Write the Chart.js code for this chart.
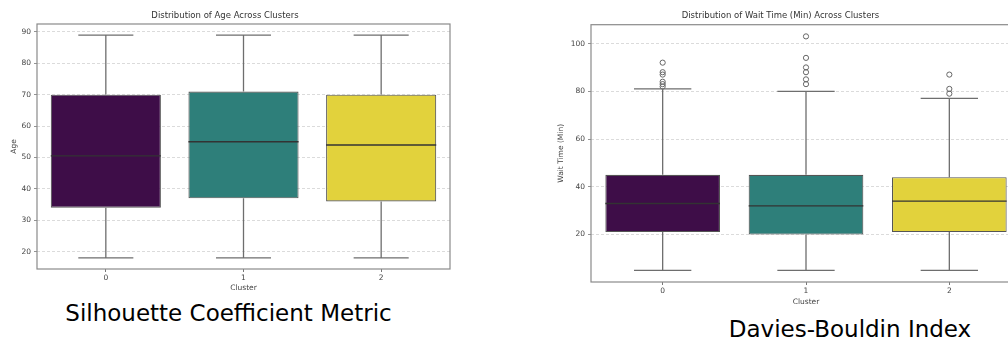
<!DOCTYPE html>
<html>
<head>
<meta charset="utf-8">
<script src="https://cdn.jsdelivr.net/npm/chart.js@4.4.1/dist/chart.umd.min.js"></script>
<style>
  html, body { margin: 0; padding: 0; background: #fff; }
  body { width: 1008px; height: 341px; overflow: hidden; position: relative; }
  canvas { position: absolute; }
  #ageChart { left: 0; top: 0; }
  #waitChart { left: 540px; top: 0; }
  .caption { position: absolute; font-family: "DejaVu Sans", sans-serif; font-size: 23px; color: #000; text-align: center; white-space: nowrap; line-height: 1; }
  #cap1 { left: 0; width: 457px; top: 302px; }
  #cap2 { left: 700px; width: 300px; top: 318px; }
</style>
</head>
<body>
<canvas id="ageChart" width="470" height="300"></canvas>
<canvas id="waitChart" width="490" height="310"></canvas>
<div class="caption" id="cap1">Silhouette Coefficient Metric</div>
<div class="caption" id="cap2">Davies-Bouldin Index</div>
<script>
const clusters = ['0', '1', '2'];
const clusterColors = ['rgb(62,13,72)', 'rgb(46,127,122)', 'rgb(226,210,60)'];

// Age box plot
const ageLow = [18, 18, 18];
const ageQ1 = [34, 37, 36];
const ageMedian = [50.5, 55, 54];
const ageQ3 = [70, 71, 70];
const ageHigh = [89, 89, 89];
const ageTicks = [20, 30, 40, 50, 60, 70, 80, 90];

// Wait time box plot
const waitLow = [5, 5, 5];
const waitQ1 = [21, 20, 21];
const waitMedian = [33, 32, 34];
const waitQ3 = [45, 45, 44];
const waitHigh = [81, 80, 77];
const waitOutliers = [
  [92, 88, 87, 84, 83, 82],
  [103, 94, 90, 88, 85, 83],
  [87, 81, 79]
];
const waitTicks = [20, 40, 60, 80, 100];

const FONT = 'DejaVu Sans';

// whiskers, caps, medians and the frame round the plot
const boxPlugin = {
  id: 'boxExtras',
  afterDatasetsDraw(chart, args, opts) {
    const ctx = chart.ctx;
    const x = chart.scales.x, y = chart.scales.y;
    const band = x.getPixelForValue(1) - x.getPixelForValue(0);
    ctx.save();
    for (let i = 0; i < clusters.length; i++) {
      const cx = x.getPixelForValue(i);
      const capHalf = band * 0.2;
      ctx.strokeStyle = '#6e6e6e';
      ctx.lineWidth = 1.3;
      ctx.beginPath();
      ctx.moveTo(cx, y.getPixelForValue(opts.q1[i]));
      ctx.lineTo(cx, y.getPixelForValue(opts.low[i]));
      ctx.moveTo(cx - capHalf, y.getPixelForValue(opts.low[i]));
      ctx.lineTo(cx + capHalf, y.getPixelForValue(opts.low[i]));
      ctx.moveTo(cx, y.getPixelForValue(opts.q3[i]));
      ctx.lineTo(cx, y.getPixelForValue(opts.high[i]));
      ctx.moveTo(cx - capHalf, y.getPixelForValue(opts.high[i]));
      ctx.lineTo(cx + capHalf, y.getPixelForValue(opts.high[i]));
      ctx.stroke();
      const boxHalf = band * 0.4;
      ctx.strokeStyle = '#333';
      ctx.lineWidth = 1.4;
      ctx.beginPath();
      ctx.moveTo(cx - boxHalf, y.getPixelForValue(opts.median[i]));
      ctx.lineTo(cx + boxHalf, y.getPixelForValue(opts.median[i]));
      ctx.stroke();
    }
    const a = chart.chartArea;
    ctx.strokeStyle = '#8a8a8a';
    ctx.lineWidth = 1.2;
    ctx.strokeRect(a.left, a.top, a.right - a.left, a.bottom - a.top);
    ctx.restore();
  }
};

function makeBoxChart(id, d) {
  const boxes = clusters.map((c, i) => [d.q1[i], d.q3[i]]);
  const outlierPoints = [];
  (d.outliers || []).forEach((list, i) => {
    list.forEach(v => outlierPoints.push({ x: clusters[i], y: v }));
  });
  return new Chart(document.getElementById(id), {
    type: 'bar',
    data: {
      labels: clusters,
      datasets: [{
        data: boxes,
        backgroundColor: clusterColors,
        borderColor: '#555',
        borderWidth: 1.1,
        borderSkipped: false,
        barPercentage: 0.8,
        categoryPercentage: 1.0
      }, {
        type: 'line',
        data: outlierPoints,
        showLine: false,
        pointRadius: 2.6,
        pointBorderWidth: 1,
        pointBackgroundColor: 'rgba(255,255,255,0)',
        pointBorderColor: '#666'
      }]
    },
    options: {
      responsive: false,
      animation: false,
      layout: { padding: { right: d.padRight, left: 0, bottom: 0, top: 0 } },
      plugins: {
        legend: { display: false },
        tooltip: { enabled: false },
        title: {
          display: true,
          text: d.title,
          color: '#333',
          font: { family: FONT, size: 8.5, weight: 'normal', lineHeight: 1.2 },
          padding: { top: d.titleTop, bottom: d.titleBottom }
        },
        boxExtras: d
      },
      scales: {
        x: {
          afterFit(s) { s.height = d.xHeight; },
          grid: { display: true, offset: false, drawOnChartArea: false, drawTicks: true, tickLength: 3, tickColor: '#777' },
          border: { display: false },
          ticks: { color: '#444', padding: 2, font: { family: FONT, size: 7.5 } },
          title: { display: true, text: 'Cluster', color: '#444', font: { family: FONT, size: 7.5 }, padding: { top: 0, bottom: d.xTitlePad } }
        },
        y: {
          min: d.yMin,
          max: d.yMax,
          afterFit(s) { s.width = d.yWidth; },
          afterBuildTicks(s) { s.ticks = d.ticks.map(v => ({ value: v })); },
          grid: { color: '#d2d2d2', lineWidth: 0.8, tickColor: '#777', tickLength: 3, tickBorderDash: [] },
          border: { display: false, dash: [3, 2] },
          ticks: { color: '#444', padding: 3, font: { family: FONT, size: 7.5 } },
          title: { display: true, text: d.yTitle, color: '#444', font: { family: FONT, size: 7.5 }, padding: { top: d.yTitlePad, bottom: 0 } }
        }
      }
    },
    plugins: [boxPlugin]
  });
}

makeBoxChart('ageChart', {
  title: 'Distribution of Age Across Clusters',
  yTitle: 'Age',
  low: ageLow, q1: ageQ1, median: ageMedian, q3: ageQ3, high: ageHigh,
  ticks: ageTicks, yMin: 14.45, yMax: 92.55,
  yWidth: 37, xHeight: 31, padRight: 20,
  titleTop: 11, titleBottom: 2.8, yTitlePad: 10, xTitlePad: 7
});

makeBoxChart('waitChart', {
  title: 'Distribution of Wait Time (Min) Across Clusters',
  yTitle: 'Wait Time (Min)',
  low: waitLow, q1: waitQ1, median: waitMedian, q3: waitQ3, high: waitHigh,
  outliers: waitOutliers,
  ticks: waitTicks, yMin: 0.1, yMax: 107.9,
  yWidth: 51, xHeight: 28, padRight: 9,
  titleTop: 11, titleBottom: 3.5, yTitlePad: 17, xTitlePad: 3.5
});
</script>
</body>
</html>
